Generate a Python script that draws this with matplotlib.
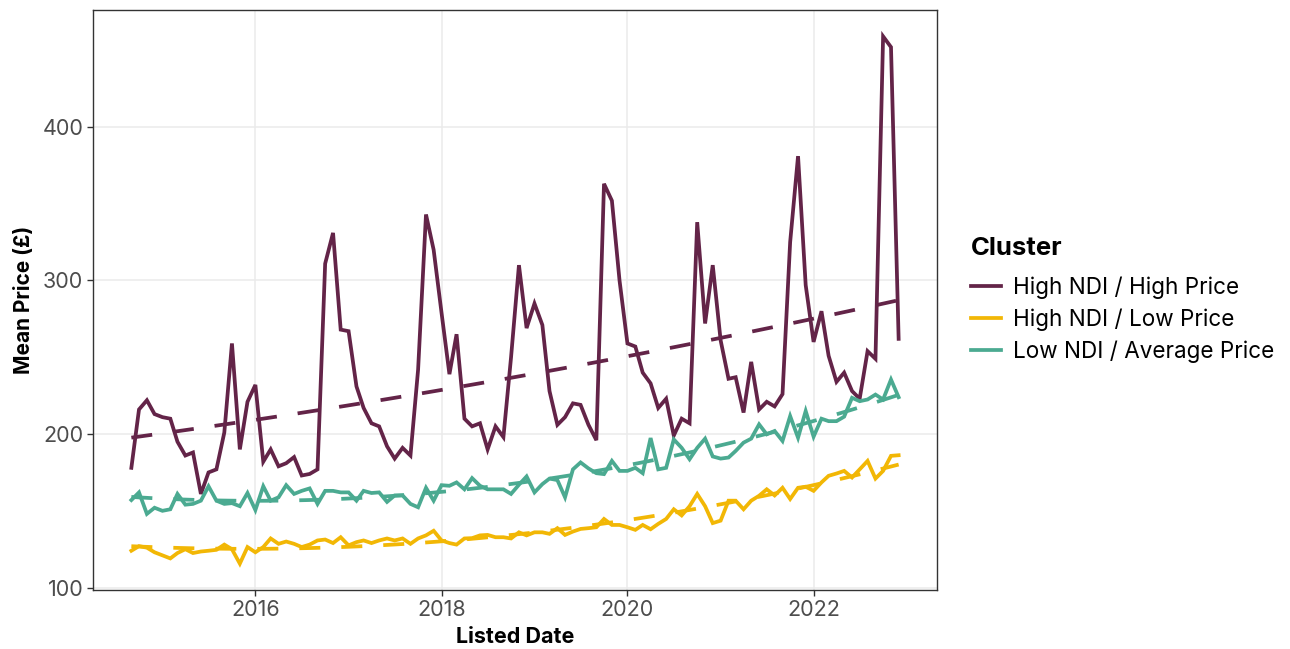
import numpy as np
import pandas as pd
import matplotlib
matplotlib.use("Agg")
import matplotlib.pyplot as plt
import matplotlib.dates as mdates

plt.rcParams['font.family'] = ['Inter', 'DejaVu Sans']

# ---------------- data ----------------
start_month = "2014-09-01"
n_months = 100

high_high = [178, 216, 222, 213, 211, 210, 195, 186, 188, 161, 175, 177, 201, 259, 190, 221,
             232, 182, 190, 179, 181, 185, 173, 174, 177, 311, 331, 268, 267, 231, 217, 207,
             205, 192, 184, 191, 186, 242, 343, 320, 279, 239, 265, 210, 205, 207, 190, 205,
             198, 250, 310, 269, 285, 271, 228, 206, 211, 220, 219, 206, 196, 363, 352, 300,
             259, 257, 240, 233, 217, 223, 199, 210, 207, 338, 272, 310, 261, 236, 237, 214,
             247, 216, 221, 218, 226, 325, 381, 297, 260, 280, 251, 234, 240, 228, 223, 254,
             249, 459, 452, 262]

high_low = [124, 127, 126, 123, 121, 119, 122.5, 125, 122.5, 123.5, 124, 124.6, 128, 125, 115.6, 126.4,
            123, 126.4, 132, 128.5, 130, 128.5, 126.4, 128, 130.7, 131.3, 129, 132.8, 127.5, 129.6, 130.7, 129,
            130.7, 132, 130.7, 132, 128.5, 132, 134, 137, 130.7, 129, 128, 132, 132.2, 134, 134.3, 132.8,
            132.8, 132, 136, 134, 136, 136, 135, 138.7, 134.3, 136.5, 138.2, 138.7, 139.3, 144.7, 140.8, 140.8,
            139.3, 137.6, 140.8, 138, 141.5, 144.7, 151, 147, 153, 161, 153, 142, 143.6, 156.6, 156.6, 151,
            156.6, 159.8, 164, 160, 165, 157.7, 165, 165.7, 163, 168.5, 172.8, 174.3, 176, 171.7, 177, 182.5,
            171, 176, 185.8, 186.2]

low_avg = [157, 162, 148, 152, 150, 151, 161, 154, 154.5, 156.6, 166, 156.6, 154.5, 155, 153, 161.6,
           150.5, 166, 156.6, 158.8, 166.7, 161, 163, 164.6, 154.5, 163, 163, 162, 162, 156.6, 163, 161.6,
           162, 155.8, 160, 160, 154.5, 152.3, 165, 156.6, 166.7, 166.3, 168.5, 164, 171.3, 166.3, 164, 164,
           164, 161, 167, 172.4, 162, 167.4, 171, 170, 158.8, 177, 181.5, 177.6, 174.5, 173.9, 182.5, 176,
           176, 178, 174.5, 197.4, 177, 178, 196.5, 191, 183.6, 191, 197, 185.4, 184, 184.7, 189, 194.4,
           197, 206.3, 199.8, 202, 195.5, 211.7, 197.6, 215, 198.3, 210, 208.4, 208.4, 211.3, 223.6, 221.4, 222.5,
           225.7, 222.5, 235.5, 224]

clusters = ["High NDI / High Price", "High NDI / Low Price", "Low NDI / Average Price"]
series = [high_high, high_low, low_avg]
colors = ["#632448", "#F2B705", "#4BAA91"]

dates = pd.date_range(start_month, periods=n_months, freq="MS")
xnum = mdates.date2num(dates.to_pydatetime())

fig = plt.figure(figsize=(12.9, 6.49), dpi=100)
ax = fig.add_axes([93 / 1290, 1 - 590 / 649, (937 - 93) / 1290, (590 - 10) / 649])

xs_grid = np.linspace(xnum.min(), xnum.max(), 80)
xm, xsd = xnum.mean(), xnum.std()
handles = []
for name, vals, col in zip(clusters, series, colors):
    h, = ax.plot(xnum, vals, color=col, lw=2.7, solid_joinstyle="miter", label=name, zorder=3)
    handles.append(h)
    coef = np.polyfit((xnum - xm) / xsd, vals, 2)
    ax.plot(xs_grid, np.polyval(coef, (xs_grid - xm) / xsd), color=col, lw=2.7,
            linestyle=(0, (5.6, 5.6)), zorder=3)

ax.margins(x=0.05, y=0.05)
ax.xaxis.set_major_locator(mdates.YearLocator(2))
ax.xaxis.set_major_formatter(mdates.DateFormatter("%Y"))
ax.set_yticks([100, 200, 300, 400])

ax.grid(True, color="#EBEBEB", lw=1.1, zorder=0)
ax.set_axisbelow(True)
for sp in ax.spines.values():
    sp.set_color("#333333")
    sp.set_linewidth(1.0)
ax.tick_params(axis="both", colors="#333333", length=4, width=1.0,
               labelsize=15.5, labelcolor="#4D4D4D", pad=3)

ax.set_xlabel("Listed Date", fontsize=15.5, fontweight="bold", labelpad=5)
ax.set_ylabel("Mean Price (£)", fontsize=15, fontweight="bold", labelpad=6)

leg = fig.legend(handles=handles, labels=clusters, loc="upper left",
                 bbox_to_anchor=(962 / 1290, 1 - 228 / 649), frameon=False,
                 title="Cluster", fontsize=16.2, title_fontproperties={"weight": "bold", "size": 18.5},
                 handlelength=1.35, handletextpad=0.5, labelspacing=0.42, borderaxespad=0)
leg._legend_box.align = "left"
leg._legend_box.sep = 0.42 * 16.2 + 5

fig.savefig("out.png", dpi=100)
